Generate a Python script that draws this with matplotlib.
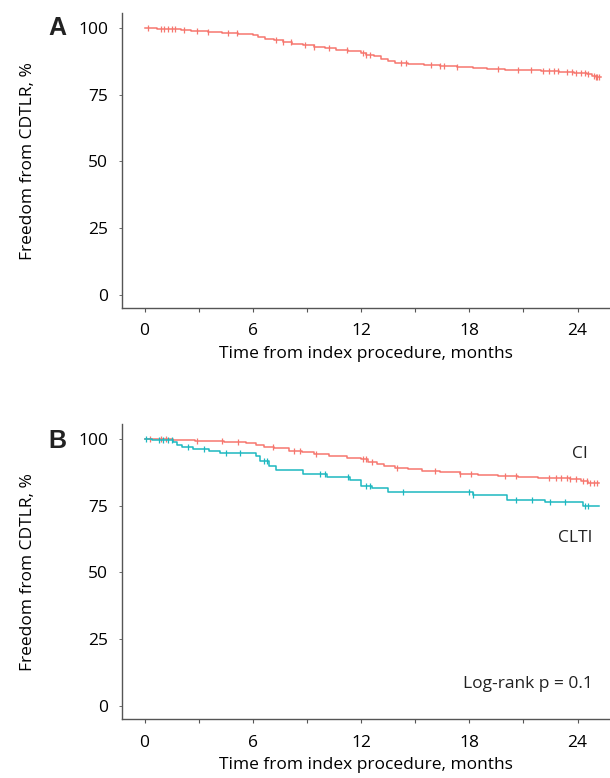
import numpy as np
import matplotlib
matplotlib.use('Agg')
import matplotlib.pyplot as plt
from matplotlib.ticker import MultipleLocator

# panel A: whole cohort (month, % free from CDTLR after the step)
a_t = [0, 0.7, 1.4, 2.0, 2.6, 3.5, 4.3, 5.2, 6.0, 6.3, 6.7, 7.2, 7.7, 8.2, 8.8, 9.4,
       10.0, 10.6, 11.3, 12.0, 12.3, 12.7, 13.1, 13.5, 13.9, 14.6, 15.5, 16.4, 17.3,
       18.2, 19.0, 20.0, 21.0, 22.0, 23.0, 23.8, 24.5, 24.8, 25.0]
a_s = [100, 99.8, 99.6, 99.2, 98.9, 98.4, 98.1, 97.8, 97.5, 96.8, 95.9, 95.4, 94.8,
       94.2, 93.6, 92.9, 92.4, 91.7, 91.3, 90.8, 90.0, 89.4, 88.4, 87.6, 86.9, 86.6,
       86.2, 85.8, 85.4, 85.0, 84.7, 84.4, 84.1, 83.8, 83.5, 83.2, 82.8, 82.0, 81.6]
a_cens = [0.2, 0.9, 1.1, 1.3, 1.5, 1.7, 2.2, 2.9, 3.5, 4.6, 5.1, 7.3, 7.7, 8.1, 8.9,
          9.4, 10.2, 11.2, 12.1, 12.3, 12.5, 14.2, 14.5, 15.9, 16.4, 16.6, 17.3, 19.6,
          20.7, 21.4, 22.1, 22.4, 22.7, 22.9, 23.4, 23.7, 23.9, 24.2, 24.4, 24.6, 24.9,
          25.0, 25.1, 25.2]
a_end = 25.3

# panel B: CI
ci_t = [0, 0.8, 1.6, 2.8, 4.4, 5.6, 6.2, 6.6, 7.2, 8.0, 8.7, 9.4, 10.2, 11.2, 12.0,
        12.4, 12.9, 13.3, 13.9, 14.6, 15.4, 16.4, 17.5, 18.5, 19.6, 20.7, 21.8, 22.8,
        23.6, 24.2, 24.6]
ci_s = [100, 99.8, 99.6, 99.3, 99.0, 98.5, 97.8, 97.1, 96.5, 95.6, 95.0, 94.3, 93.6,
        93.0, 92.3, 91.4, 90.6, 89.8, 89.0, 88.6, 88.1, 87.5, 86.9, 86.4, 86.1, 85.8,
        85.5, 85.2, 84.9, 84.2, 83.6]
ci_cens = [0.3, 0.9, 1.2, 2.9, 4.3, 5.2, 7.1, 8.3, 8.6, 9.5, 12.1, 12.3, 12.6, 14.0,
           16.1, 17.5, 18.1, 20.0, 20.6, 22.4, 22.8, 23.1, 23.4, 23.6, 23.9, 24.3, 24.5,
           24.7, 24.9, 25.1]
ci_end = 25.2

# panel B: CLTI
clti_t = [0, 0.4, 1.6, 1.8, 2.1, 2.7, 3.6, 4.2, 6.2, 6.4, 6.9, 7.3, 8.8, 10.1, 11.4,
          12.0, 12.6, 13.5, 18.2, 20.1, 22.2, 24.3]
clti_s = [100, 99.5, 98.9, 97.8, 97.0, 96.3, 95.4, 94.6, 93.6, 91.8, 90.0, 88.3, 86.8,
          85.7, 84.5, 82.5, 81.5, 80.0, 78.8, 77.2, 76.2, 74.7]
clti_cens = [0.1, 0.8, 1.0, 1.3, 1.5, 2.4, 3.3, 4.5, 5.3, 6.6, 6.8, 9.7, 10.0, 11.3,
             12.3, 12.5, 14.3, 18.0, 18.2, 20.6, 21.5, 22.5, 23.3, 24.4, 24.6]
clti_end = 25.2

red = '#F6776F'
blue = '#1DB8C0'
grey = '#555555'

plt.rcParams['font.family'] = ['Open Sans', 'DejaVu Sans']
plt.rcParams['font.size'] = 12
plt.rcParams['text.color'] = '#222222'

fig = plt.figure(figsize=(6.1, 7.78), dpi=100)
axA = fig.add_axes([0.2, 0.604, 0.8, 0.379])
axB = fig.add_axes([0.2, 0.0755, 0.8, 0.3795])


def km(ax, t, s, cens, end, col):
    tt = list(t) + [end]
    ss = list(s) + [s[-1]]
    ax.step(tt, ss, where='post', color=col, lw=1.1)
    idx = np.searchsorted(t, cens, side='right') - 1
    ax.plot(cens, np.array(s)[idx], ls='none', marker='|', ms=5, mew=0.9, color=col)


km(axA, a_t, a_s, a_cens, a_end, red)
km(axB, ci_t, ci_s, ci_cens, ci_end, red)
km(axB, clti_t, clti_s, clti_cens, clti_end, blue)

for ax in (axA, axB):
    ax.set_xlim(-1.25, 25.8)
    ax.set_ylim(-5.1, 105.6)
    for sp in ('top', 'right'):
        ax.spines[sp].set_visible(False)
    for sp in ('left', 'bottom'):
        ax.spines[sp].set_color(grey)
        ax.spines[sp].set_linewidth(1.0)
    ax.set_xticks([0, 6, 12, 18, 24])
    ax.xaxis.set_minor_locator(MultipleLocator(3))
    ax.set_yticks([0, 25, 50, 75, 100])
    ax.tick_params(axis='x', which='both', length=3, width=0.8, color=grey,
                   labelsize=12.5, pad=8)
    ax.tick_params(axis='y', length=2, width=0.6, color=grey, labelsize=12.5, pad=8)
    ax.set_xlabel('Time from index procedure, months', fontsize=12.5, labelpad=5)
    ax.set_ylabel('Freedom from CDTLR, %', fontsize=12.5, labelpad=30)

axB.text(24.55, 94.5, 'CI', ha='right', va='center', fontsize=12.5)
axB.text(24.8, 62.8, 'CLTI', ha='right', va='center', fontsize=12.5)
axB.text(24.85, 8.0, 'Log-rank p = 0.1', ha='right', va='center', fontsize=12.5)

fig.text(0.0934, 0.964, 'A', fontsize=18, fontweight='bold', ha='center', va='center',
         family=['Liberation Sans', 'DejaVu Sans'])
fig.text(0.0934, 0.433, 'B', fontsize=18, fontweight='bold', ha='center', va='center',
         family=['Liberation Sans', 'DejaVu Sans'])

fig.savefig('out.png', dpi=100)
